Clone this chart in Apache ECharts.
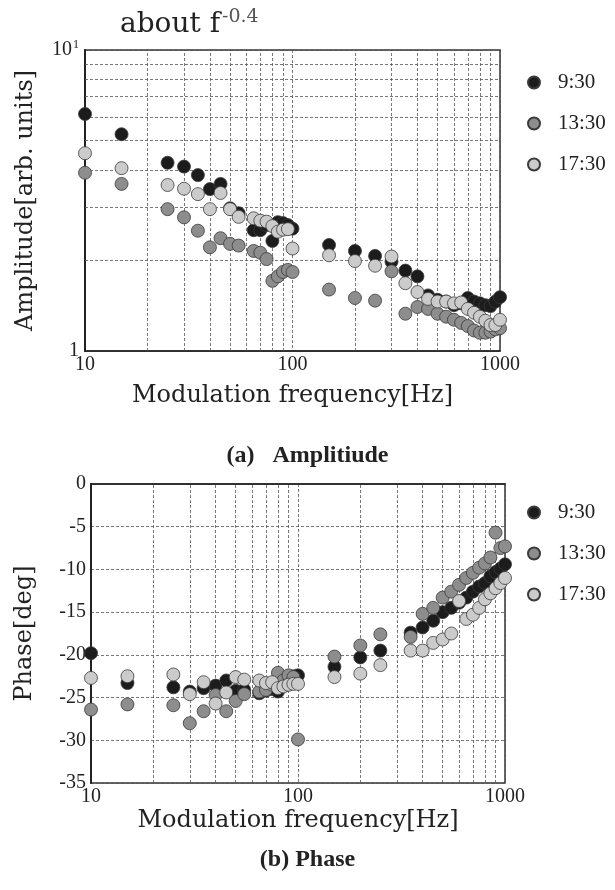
<!DOCTYPE html>
<html>
<head>
<meta charset="utf-8">
<script src="https://cdn.jsdelivr.net/npm/echarts@6/dist/echarts.min.js"></script>
<style>
  html, body { margin: 0; padding: 0; background: #fff; }
  #chart { width: 615px; height: 890px; }
</style>
</head>
<body>
<div id="chart"></div>
<script>
// modulation frequencies [Hz]
const freq = [10, 15, 25, 30, 35, 40, 45, 50, 55, 65, 70, 75, 80, 85, 90, 95, 100,
  150, 200, 250, 300, 350, 400, 450, 500, 550, 600, 650, 700, 750, 800, 850, 900, 950, 1000];

// amplitude [arb. units]
const amp0930 = [6.13, 5.25, 4.22, 4.10, 3.84, 3.45, 3.59, 2.98, 2.87, 2.52, 2.52, 2.62, 2.32, 2.68, 2.66, 2.62, 2.55,
  2.25, 2.15, 2.07, 1.98, 1.85, 1.77, 1.53, 1.48, 1.46, 1.42, 1.44, 1.50, 1.46, 1.44, 1.42, 1.41, 1.46, 1.51];
const amp1330 = [3.91, 3.59, 2.96, 2.78, 2.51, 2.21, 2.37, 2.27, 2.24, 2.15, 2.12, 2.02, 1.71, 1.77, 1.83, 1.86, 1.83,
  1.60, 1.50, 1.47, 1.84, 1.33, 1.40, 1.38, 1.33, 1.30, 1.27, 1.24, 1.21, 1.17, 1.15, 1.15, 1.16, 1.18, 1.19];
const amp1730 = [4.54, 4.05, 3.56, 3.46, 3.32, 2.96, 3.35, 2.96, 2.79, 2.76, 2.71, 2.69, 2.60, 2.49, 2.53, 2.54, 2.19,
  2.08, 1.99, 1.92, 2.06, 1.68, 1.57, 1.49, 1.46, 1.46, 1.44, 1.45, 1.38, 1.34, 1.30, 1.26, 1.22, 1.22, 1.27];

// phase [deg] (no phase point at 300 Hz)
const ph0930 = [-19.8, -23.3, -23.8, -24.3, -23.9, -23.6, -23.0, -24.2, -24.1, -24.5, -24.2, -24.0, -24.3, -23.5, -22.8, -22.5, -22.4,
  -21.4, -20.3, -19.5, null, -17.4, -16.8, -16.0, -15.0, -14.5, -13.9, -13.3, -12.6, -12.0, -11.6, -10.8, -10.3, -9.9, -9.4];
const ph1330 = [-26.4, -25.8, -25.9, -28.0, -26.6, -24.7, -26.6, -25.4, -24.6, -24.3, -24.1, -23.5, -22.1, -23.0, -22.4, -22.6, -29.9,
  -20.2, -18.9, -17.6, null, -17.9, -15.2, -14.5, -13.3, -12.6, -11.8, -11.0, -10.4, -9.8, -9.3, -8.6, -5.7, -7.5, -7.3];
const ph1730 = [-22.7, -22.5, -22.3, -24.6, -23.2, -25.7, -24.4, -22.6, -22.9, -23.0, -23.3, -23.2, -23.9, -23.7, -23.5, -23.4, -23.4,
  -22.6, -22.2, -21.2, null, -19.5, -19.5, -18.6, -18.2, -17.5, -13.7, -15.8, -15.3, -14.5, -13.5, -12.8, -12.2, -11.6, -11.0];

const seriesNames = ['9:30', '13:30', '17:30'];
const xMinor = [20, 30, 40, 50, 60, 70, 80, 90, 200, 300, 400, 500, 600, 700, 800, 900];
const ampMinor = [2, 3, 4, 5, 6, 7, 8, 9];

const colors = ['#1c1c1c', '#8d8d8d', '#cbcbcb'];
const serif = 'Liberation Serif';
const wide = 'DejaVu Serif';

function pairs(arr) {
  return freq.map((f, i) => [f, arr[i]]).filter(p => p[1] != null);
}

const dash = { color: '#555', width: 0.8, type: [3, 2] };

function gridLines(yVals) {
  return {
    silent: true,
    symbol: 'none',
    z: 1,
    label: { show: false },
    lineStyle: dash,
    emphasis: { disabled: true },
    animation: false,
    data: xMinor.map(v => ({ xAxis: v })).concat(yVals.map(v => ({ yAxis: v })))
  };
}

function xAxisCfg(idx, gap) {
  return {
    type: 'log', logBase: 10, min: 10, max: 1000, gridIndex: idx,
    name: 'Modulation frequency[Hz]', nameLocation: 'middle', nameGap: gap,
    nameTextStyle: { fontFamily: wide, fontSize: 24, color: '#222' },
    axisLine: { lineStyle: { color: '#222', width: 1.5 } },
    axisTick: { show: false },
    axisLabel: {
      fontFamily: serif, fontSize: 20, color: '#222', margin: 4,
      formatter: v => String(Math.round(v))
    },
    splitLine: { show: true, lineStyle: dash }
  };
}

function scatter(name, data, i, xi, extra) {
  return Object.assign({
    name: name, type: 'scatter', xAxisIndex: xi, yAxisIndex: xi,
    data: data, symbolSize: 13,
    itemStyle: { color: colors[i], borderColor: '#3a3a3a', borderWidth: 0.8, opacity: 1 }
  }, extra || {});
}

function legendCfg(top) {
  return {
    data: seriesNames, orient: 'vertical', left: 522, top: top,
    icon: 'circle', itemWidth: 12, itemHeight: 12, itemGap: 20,
    selectedMode: false,
    textStyle: { fontFamily: serif, fontSize: 21, color: '#222', padding: [0, 0, 0, 13], lineHeight: 20 }
  };
}

const chart = echarts.init(document.getElementById('chart'));

const option = {
  backgroundColor: '#fff',
  animation: false,
  grid: [
    { left: 85, top: 50, width: 415, height: 301, show: true, borderColor: '#333', borderWidth: 1.5 },
    { left: 91, top: 484, width: 414, height: 299, show: true, borderColor: '#333', borderWidth: 1.5 }
  ],
  legend: [legendCfg(67), legendCfg(497)],
  xAxis: [xAxisCfg(0, 33), xAxisCfg(1, 26)],
  yAxis: [
    {
      type: 'log', logBase: 10, min: 1, max: 10, gridIndex: 0,
      name: 'Amplitude[arb. units]', nameLocation: 'middle', nameGap: 47,
      nameTextStyle: { fontFamily: wide, fontSize: 24, color: '#222' },
      axisLine: { show: true, lineStyle: { color: '#222', width: 2 } },
      axisTick: { show: false },
      axisLabel: {
        margin: 6, color: '#222',
        formatter: v => (v >= 10 ? '{b|10}{s|1}' : '{b|1}'),
        rich: {
          b: { fontFamily: serif, fontSize: 20, color: '#222' },
          s: { fontFamily: serif, fontSize: 12, color: '#222', padding: [0, 0, 10, 1] }
        }
      },
      splitLine: { show: true, lineStyle: dash }
    },
    {
      type: 'value', min: -35, max: 0, interval: 5, gridIndex: 1,
      name: 'Phase[deg]', nameLocation: 'middle', nameGap: 54,
      nameTextStyle: { fontFamily: wide, fontSize: 24, color: '#222' },
      axisLine: { show: true, lineStyle: { color: '#222', width: 2 } },
      axisTick: { show: false },
      axisLabel: { fontFamily: serif, fontSize: 20, color: '#222', margin: 5 },
      splitLine: { show: true, lineStyle: dash }
    }
  ],
  series: [
    scatter(seriesNames[0], pairs(amp0930), 0, 0, { markLine: gridLines(ampMinor) }),
    scatter(seriesNames[1], pairs(amp1330), 1, 0),
    scatter(seriesNames[2], pairs(amp1730), 2, 0),
    scatter(seriesNames[0], pairs(ph0930), 0, 1, { markLine: gridLines([]) }),
    scatter(seriesNames[1], pairs(ph1330), 1, 1),
    scatter(seriesNames[2], pairs(ph1730), 2, 1)
  ],
  graphic: [
    { type: 'text', left: 120, top: 11, style: { text: 'about f', font: '28px "DejaVu Serif"', fill: '#222' } },
    { type: 'text', left: 222, top: 8, style: { text: '-0.4', font: '19px "DejaVu Serif"', fill: '#555' } },
    { type: 'text', left: 'center', top: 444, style: { text: '(a)   Amplitiude', font: 'bold 24px "Liberation Serif"', fill: '#222' } },
    { type: 'text', left: 'center', top: 848, style: { text: '(b) Phase', font: 'bold 24px "Liberation Serif"', fill: '#222' } }
  ]
};

chart.setOption(option);
</script>
</body>
</html>
